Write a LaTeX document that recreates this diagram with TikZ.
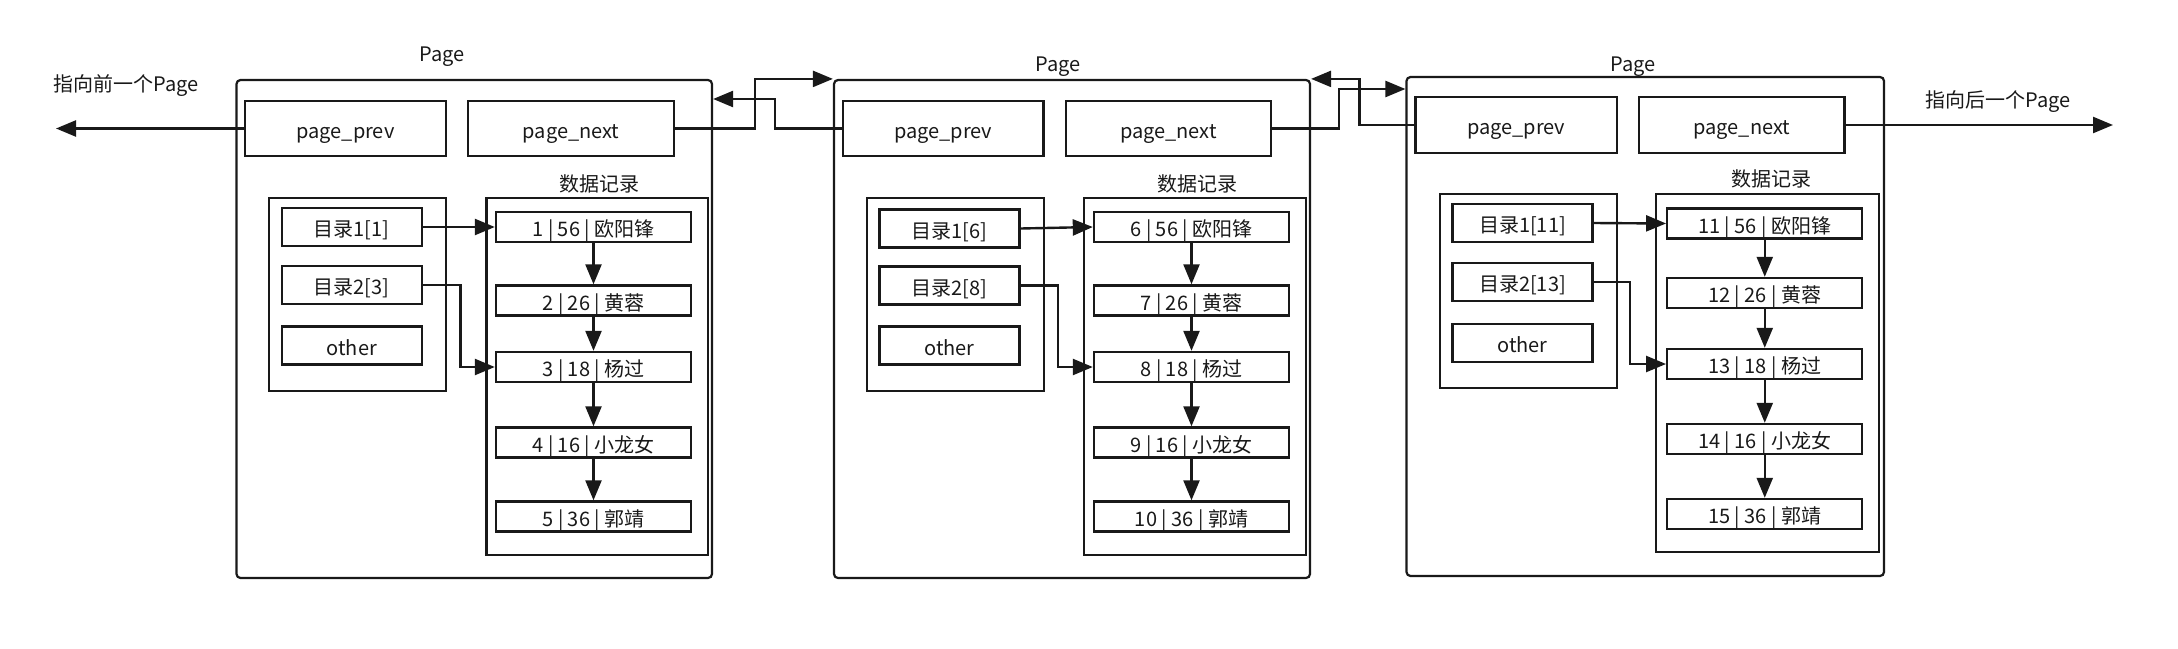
\documentclass[tikz,border=0pt]{standalone}
\usepackage{fontspec}
\setmainfont{Noto Sans CJK SC}
\usetikzlibrary{arrows.meta}
\begin{document}
\begin{tikzpicture}[x=0.5pt,y=-0.5pt,
  every node/.style={font=\fontsize{10pt}{12pt}\selectfont, text=black!90, text height=9.5pt, text depth=0pt},
  sz/.style 2 args={minimum width=#1*0.5pt, minimum height=#2*0.5pt},
  box/.style={draw=black!90, line width=1.2pt, inner sep=0pt},
  rec/.style={box, sz={195}{30}},
  dir/.style={box, sz={140}{38}},
  pagebox/.style={draw=black!90, line width=1.1pt, rounded corners=2pt, inner sep=0pt},
  grp/.style={draw=black!90, line width=1.2pt, inner sep=0pt},
  lbl/.style={inner sep=0pt},
  arr/.style={draw=black!90, line width=1.2pt, -{Triangle[length=10pt,width=8pt]}},
]
\useasboundingbox (0,0) rectangle (2178,648);

% ---------- Page 1 ----------
\node[pagebox, sz={475.5}{498}] (P1) at (474.25,329) {};
\node[lbl] (L1) at (442,52) {Page};
\node[lbl] (ext1) at (126,82) {指向前一个Page};
\node[box, sz={201}{55}] (prev1) at (345.5,128.5) {page\_prev};
\node[box, sz={206}{55}] (next1) at (571,128.5) {page\_next};
\node[lbl] (R1) at (599,182) {数据记录};
\node[grp, sz={177}{193}] (dir1) at (357.5,294.5) {};
\node[grp, sz={221.5}{357}] (rb1) at (597.25,376.5) {};
\node[dir] (d1a) at (351.75,227) {目录1[1]};
\node[dir] (d1b) at (351.75,285) {目录2[3]};
\node[dir] (d1c) at (351.75,345.5) {other};
\node[rec] (r1a) at (593.5,227) {1 | 56 | 欧阳锋};
\node[rec] (r1b) at (593.5,300.5) {2 | 26 | 黄蓉};
\node[rec] (r1c) at (593.5,367) {3 | 18 | 杨过};
\node[rec] (r1d) at (593.5,442.5) {4 | 16 | 小龙女};
\node[rec] (r1e) at (593.5,516.5) {5 | 36 | 郭靖};
\draw[arr] (r1a) -- (r1b);
\draw[arr] (r1b) -- (r1c);
\draw[arr] (r1c) -- (r1d);
\draw[arr] (r1d) -- (r1e);
\draw[arr] (d1a) -- (r1a);
\draw[arr] (d1b.east) -- ++(37.7,0) |- (r1c.west);

% ---------- Page 2 ----------
\node[pagebox, sz={476}{498}] (P2) at (1072,329) {};
\node[lbl] (L2) at (1058,62) {Page};
\node[box, sz={200.6}{55}] (prev2) at (943.3,128.5) {page\_prev};
\node[box, sz={205}{55}] (next2) at (1168.5,128.5) {page\_next};
\node[lbl] (R2) at (1197,182) {数据记录};
\node[grp, sz={177}{193}] (dir2) at (955.5,294.5) {};
\node[grp, sz={222}{357}] (rb2) at (1195,376.5) {};
\node[dir] (d2a) at (949.5,228.5) {目录1[6]};
\node[dir] (d2b) at (949.5,285.5) {目录2[8]};
\node[dir] (d2c) at (949.5,345.5) {other};
\node[rec] (r2a) at (1191.5,227) {6 | 56 | 欧阳锋};
\node[rec] (r2b) at (1191.5,300.5) {7 | 26 | 黄蓉};
\node[rec] (r2c) at (1191.5,367) {8 | 18 | 杨过};
\node[rec] (r2d) at (1191.5,442.5) {9 | 16 | 小龙女};
\node[rec] (r2e) at (1191.5,516.5) {10 | 36 | 郭靖};
\draw[arr] (r2a) -- (r2b);
\draw[arr] (r2b) -- (r2c);
\draw[arr] (r2c) -- (r2d);
\draw[arr] (r2d) -- (r2e);
\draw[arr] (d2a.east) -- (r2a.west);
\draw[arr] (d2b.east) -- ++(37,0) |- (r2c.west);

% ---------- Page 3 ----------
\node[pagebox, sz={477.5}{499}] (P3) at (1645.25,326.5) {};
\node[lbl] (L3) at (1633,62) {Page};
\node[lbl] (ext3) at (1998,98) {指向后一个Page};
\node[box, sz={201.4}{56}] (prev3) at (1516.3,125) {page\_prev};
\node[box, sz={205.6}{56}] (next3) at (1741.8,125) {page\_next};
\node[lbl] (R3) at (1771,177) {数据记录};
\node[grp, sz={177}{194}] (dir3) at (1528.5,291) {};
\node[grp, sz={223}{358}] (rb3) at (1767.5,373) {};
\node[dir] (d3a) at (1522.5,223) {目录1[11]};
\node[dir] (d3b) at (1522.5,282) {目录2[13]};
\node[dir] (d3c) at (1522.5,343) {other};
\node[rec] (r3a) at (1764.75,223.5) {11 | 56 | 欧阳锋};
\node[rec] (r3b) at (1764.75,293) {12 | 26 | 黄蓉};
\node[rec] (r3c) at (1764.75,364) {13 | 18 | 杨过};
\node[rec] (r3d) at (1764.75,439) {14 | 16 | 小龙女};
\node[rec] (r3e) at (1764.75,514) {15 | 36 | 郭靖};
\draw[arr] (r3a) -- (r3b);
\draw[arr] (r3b) -- (r3c);
\draw[arr] (r3c) -- (r3d);
\draw[arr] (r3d) -- (r3e);
\draw[arr] (d3a.east) -- (r3a.west);
\draw[arr] (d3b.east) -- ++(36,0) |- (r3c.west);

% ---------- links between pages ----------
\coordinate (yb) at (0,99);
\coordinate (yc) at (0,89);
\coordinate (eL) at (56,128.5);
\coordinate (eR) at (2113,125);
\draw[arr] (prev1.west) -- (eL);
\draw[arr] (next1.east) -- ++(79.5,0) |- (P2.north west);
\draw[arr] (prev2.west) -- ++(-67,0) |- (P1.east |- yb);
\draw[arr] (next2.east) -- ++(67,0) |- (P3.west |- yc);
\draw[arr] (prev3.west) -- ++(-55,0) |- (P2.north east);
\draw[arr] (next3.east) -- (eR);
\end{tikzpicture}
\end{document}
